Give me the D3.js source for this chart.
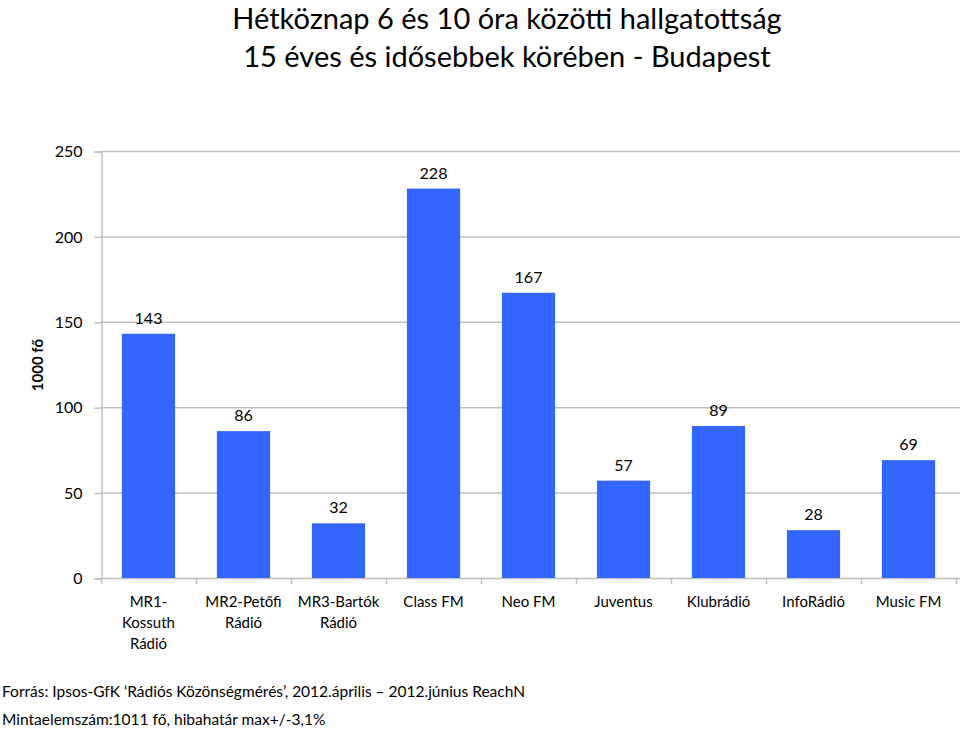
<!DOCTYPE html>
<html>
<head>
<meta charset="utf-8">
<script src="https://cdn.jsdelivr.net/npm/d3@7"></script>
<style>
  body { margin: 0; background: #fff; }
  svg text { font-family: Lato, "Open Sans", sans-serif; fill: #000; }
</style>
</head>
<body>
<svg id="chart" width="960" height="732"></svg>
<script>
// data
var categories = [
    ["MR1-", "Kossuth", "Rádió"],
    ["MR2-Petőfi", "Rádió"],
    ["MR3-Bartók", "Rádió"],
    ["Class FM"],
    ["Neo FM"],
    ["Juventus"],
    ["Klubrádió"],
    ["InfoRádió"],
    ["Music FM"]
];
var values = [143, 86, 32, 228, 167, 57, 89, 28, 69];
var yTicks = [0, 50, 100, 150, 200, 250];
var titleLines = ["Hétköznap 6 és 10 óra közötti hallgatottság", "15 éves és idősebbek körében - Budapest"];
var yLabel = "1000 fő";
var footLines = ["Forrás: Ipsos-GfK ‘Rádiós Közönségmérés’, 2012.április – 2012.június ReachN", "Mintaelemszám:1011 fő, hibahatár max+/-3,1%"];

var BAR_COLOR = "#3366ff";
var GRID_COLOR = "#bfbfbf";

var svg = d3.select("#chart");
var plotLeft = 101, plotRight = 956, plotTop = 151, plotBottom = 578;

var x = d3.scaleBand().domain(d3.range(values.length)).range([plotLeft, plotRight]).paddingInner(0.44).paddingOuter(0.22);
var y = d3.scaleLinear().domain([0, 250]).range([plotBottom, plotTop]);

// title
svg.append("g").selectAll("text").data(titleLines).enter().append("text")
    .attr("x", 507).attr("y", function (d, i) { return 29 + i * 38; })
    .attr("text-anchor", "middle").style("font-size", "29px")
    .text(function (d) { return d; });

// grid
svg.append("g").selectAll("line").data(yTicks).enter().append("line")
    .attr("x1", plotLeft).attr("x2", plotRight + 4)
    .attr("y1", function (d) { return y(d) + 0.5; }).attr("y2", function (d) { return y(d) + 0.5; })
    .attr("stroke", GRID_COLOR).attr("stroke-width", 1.5);

// y axis
var yAxis = svg.append("g").attr("transform", "translate(" + (plotLeft + 0.5) + ",0.5)")
    .call(d3.axisLeft(y).tickValues(yTicks).tickSize(7).tickPadding(12));
yAxis.select(".domain").attr("stroke", GRID_COLOR).attr("stroke-width", 1.5);
yAxis.selectAll(".tick line").attr("stroke", GRID_COLOR).attr("stroke-width", 1.5);
yAxis.selectAll(".tick text").style("font-size", "16px").style("font-family", "Lato, sans-serif").attr("fill", "#222");

svg.append("text")
    .attr("transform", "translate(43," + 365 + ") rotate(-90)")
    .attr("text-anchor", "middle").style("font-size", "15px").style("font-weight", "bold")
    .text(yLabel);

// x axis ticks at band boundaries
var step = x.step();
var bounds = d3.range(values.length + 1).map(function (i) { return plotLeft + i * step; });
svg.append("g").selectAll("line").data(bounds).enter().append("line")
    .attr("x1", function (d) { return d + 0.5; }).attr("x2", function (d) { return d + 0.5; })
    .attr("y1", plotBottom).attr("y2", plotBottom + 6)
    .attr("stroke", GRID_COLOR).attr("stroke-width", 1.5);

// bars
svg.append("g").selectAll("rect").data(values).enter().append("rect")
    .attr("x", function (d, i) { return x(i); })
    .attr("width", x.bandwidth())
    .attr("y", function (d) { return y(d); })
    .attr("height", function (d) { return y(0) - y(d); })
    .attr("fill", BAR_COLOR);

// value labels
svg.append("g").selectAll("text").data(values).enter().append("text")
    .attr("x", function (d, i) { return x(i) + x.bandwidth() / 2; })
    .attr("y", function (d) { return y(d) - 10; })
    .attr("text-anchor", "middle").style("font-size", "16px")
    .text(function (d) { return d; });

// category labels
var catG = svg.append("g").selectAll("text").data(categories).enter().append("text")
    .attr("text-anchor", "middle").style("font-size", "15px").attr("fill", "#111");
catG.each(function (lines, i) {
    var t = d3.select(this);
    lines.forEach(function (ln, j) {
        t.append("tspan").attr("x", x(i) + x.bandwidth() / 2).attr("y", 607 + j * 21).text(ln);
    });
});

// footer
svg.append("g").selectAll("text").data(footLines).enter().append("text")
    .attr("x", 2).attr("y", function (d, i) { return 697 + i * 28; })
    .style("font-size", "15.5px")
    .text(function (d) { return d; });
</script>
</body>
</html>
